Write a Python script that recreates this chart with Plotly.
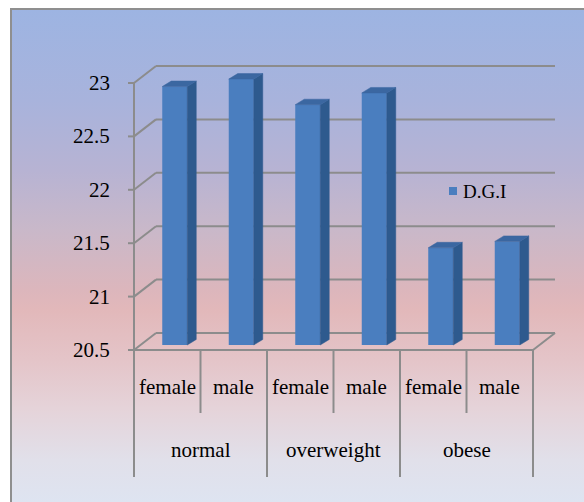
import base64
import plotly.graph_objects as go

# ---- data -------------------------------------------------------------
groups = ["normal", "overweight", "obese"]
sexes = ["female", "male"]
dgi_values = [22.92, 22.99, 22.75, 22.86, 21.41, 21.47]
y_ticks = [20.5, 21, 21.5, 22, 22.5, 23]
y_tick_labels = ["20.5", "21", "21.5", "22", "22.5", "23"]
series_name = "D.G.I"

# ---- geometry (pixel scale of the pseudo-3D frame) --------------------
W, H = 584, 502
AX_LEFT_PX = 134.0      # front edge of the value axis
AX_BASE_PX = 350.0      # pixel row of the axis minimum on the front edge
PX_PER_CAT = 66.5       # width of one category slot
PX_PER_UNIT = 106.8     # pixels per value unit
y_min = y_ticks[0]

n = len(dgi_values)
x_range = [-0.5 - AX_LEFT_PX / PX_PER_CAT, -0.5 + (W - AX_LEFT_PX) / PX_PER_CAT]
y_range = [y_min - (H - AX_BASE_PX) / PX_PER_UNIT, y_min + AX_BASE_PX / PX_PER_UNIT]


def dx(px):
    return px / PX_PER_CAT


def dy(px):
    return px / PX_PER_UNIT


# floor / wall depth
DEPTH_X, DEPTH_Y = dx(22), dy(17)
# bar placement inside the depth
BAR_SHIFT_X, BAR_LIFT = dx(7.5), dy(5)
BAR_W = dx(25)
SIDE_X, SIDE_Y = dx(9), dy(5.5)

FONT = "Liberation Serif"
GRID = "#8c8c8c"
FRONT = "#4a7ebf"
SIDE = "#2e5a8e"
TOP = "#3b67a1"

fig = go.Figure()

# ---- background gradient ---------------------------------------------
stops = [
    (0.0, "#9db4e2"), (0.185, "#a8b3dc"), (0.327, "#b7b3d3"),
    (0.448, "#c9b8c9"), (0.57, "#dcb6bc"), (0.61, "#e2b8ba"),
    (0.71, "#e4c4c8"), (0.81, "#e5d3d9"), (0.915, "#e1e0ea"), (1.0, "#dee4f1"),
]
svg = (
    "<svg xmlns='http://www.w3.org/2000/svg' width='100' height='100' "
    "viewBox='0 0 100 100' preserveAspectRatio='none'>"
    "<defs><linearGradient id='g' x1='0' y1='0' x2='0' y2='1'>"
    + "".join(f"<stop offset='{o}' stop-color='{c}'/>" for o, c in stops)
    + "</linearGradient></defs><rect width='100' height='100' fill='url(#g)'/></svg>"
)
bg_src = "data:image/svg+xml;base64," + base64.b64encode(svg.encode()).decode()
BX, BY = 11, 9
fig.add_layout_image(
    source=bg_src, xref="paper", yref="paper", x=BX / W, y=1 - BY / H,
    sizex=(W - BX) / W, sizey=(H - BY) / H, xanchor="left", yanchor="top",
    sizing="stretch", layer="below",
)

shapes = []


def seg(x0, y0, x1, y1, width=2, color=GRID):
    shapes.append(dict(type="line", xref="x", yref="y", x0=x0, y0=y0, x1=x1, y1=y1,
                       line=dict(color=color, width=width), layer="below"))


# chart border
shapes.append(dict(type="rect", xref="paper", yref="paper", x0=BX / W, y0=-0.05,
                   x1=1.05, y1=1 - BY / H, line=dict(color="#8f8f8f", width=2),
                   layer="below"))

x_front_l, x_front_r = -0.5, n - 0.5
x_back_l, x_back_r = x_front_l + DEPTH_X, x_front_r + DEPTH_X

# gridlines running from the front axis onto the back wall
for v in y_ticks:
    seg(x_front_l, v, x_back_l, v + DEPTH_Y)
    seg(x_back_l, v + DEPTH_Y, x_back_r, v + DEPTH_Y)
    seg(x_front_l - dx(6), v, x_front_l, v)          # tick mark

# value axis and floor outline
seg(x_front_l, y_min, x_front_l, y_ticks[-1])
seg(x_front_l, y_min, x_front_r, y_min)
seg(x_front_r, y_min, x_back_r, y_min + DEPTH_Y)

# category dividers (inner = sex, outer = group)
for i in range(n + 1):
    edge = i - 0.5
    depth = 127 if i % 2 == 0 else 63
    seg(edge, y_min, edge, y_min - dy(depth))

# ---- bars --------------------------------------------------------------
bar_x = [i + BAR_SHIFT_X for i in range(n)]
fig.add_trace(go.Bar(
    x=bar_x, y=[v - y_min for v in dgi_values], base=y_min + BAR_LIFT,
    width=BAR_W, marker=dict(color=FRONT, line=dict(width=0)),
    name=series_name, showlegend=False, hoverinfo="skip",
))

side_x, side_y, top_x, top_y = [], [], [], []
for xc, v in zip(bar_x, dgi_values):
    xl, xr = xc - BAR_W / 2, xc + BAR_W / 2
    b, t = y_min + BAR_LIFT, v + BAR_LIFT
    side_x += [xr, xr + SIDE_X, xr + SIDE_X, xr, xr, None]
    side_y += [b, b + SIDE_Y, t + SIDE_Y, t, b, None]
    top_x += [xl, xl + SIDE_X, xr + SIDE_X, xr, xl, None]
    top_y += [t, t + SIDE_Y, t + SIDE_Y, t, t, None]

fig.add_trace(go.Scatter(x=side_x, y=side_y, mode="lines", fill="toself",
                         fillcolor=SIDE, line=dict(color=SIDE, width=0.5),
                         showlegend=False, hoverinfo="skip"))
fig.add_trace(go.Scatter(x=top_x, y=top_y, mode="lines", fill="toself",
                         fillcolor=TOP, line=dict(color=TOP, width=0.5),
                         showlegend=False, hoverinfo="skip"))

# ---- text --------------------------------------------------------------
ann = []
for v, lab in zip(y_ticks, y_tick_labels):
    ann.append(dict(x=x_front_l, y=v, xref="x", yref="y", text=lab, showarrow=False,
                    xanchor="right", yanchor="middle", xshift=-22,
                    font=dict(family=FONT, size=21, color="#000000")))

for gi, g in enumerate(groups):
    for si, s in enumerate(sexes):
        ann.append(dict(x=gi * 2 + si, y=y_min - dy(37), xref="x", yref="y", text=s,
                        showarrow=False, xanchor="center", yanchor="middle",
                        font=dict(family=FONT, size=21, color="#000000")))
    ann.append(dict(x=gi * 2 + 0.5, y=y_min - dy(100), xref="x", yref="y", text=g,
                    showarrow=False, xanchor="center", yanchor="middle",
                    font=dict(family=FONT, size=21, color="#000000")))

# legend entry
LEG_X, LEG_Y = 449, 191
shapes.append(dict(type="rect", xref="paper", yref="paper",
                   x0=LEG_X / W, x1=(LEG_X + 8) / W,
                   y0=1 - (LEG_Y + 4) / H, y1=1 - (LEG_Y - 4) / H,
                   fillcolor=FRONT, line=dict(width=0)))
ann.append(dict(x=(LEG_X + 12) / W, y=1 - LEG_Y / H, xref="paper", yref="paper",
                text=series_name, showarrow=False, xanchor="left", yanchor="middle",
                font=dict(family=FONT, size=19, color="#000000")))

fig.update_layout(
    width=W, height=H, margin=dict(l=0, r=0, t=0, b=0),
    paper_bgcolor="#ffffff", plot_bgcolor="rgba(0,0,0,0)",
    xaxis=dict(range=x_range, visible=False, fixedrange=True),
    yaxis=dict(range=y_range, visible=False, fixedrange=True),
    shapes=shapes, annotations=ann, showlegend=False,
)

fig.write_html("out.html")
